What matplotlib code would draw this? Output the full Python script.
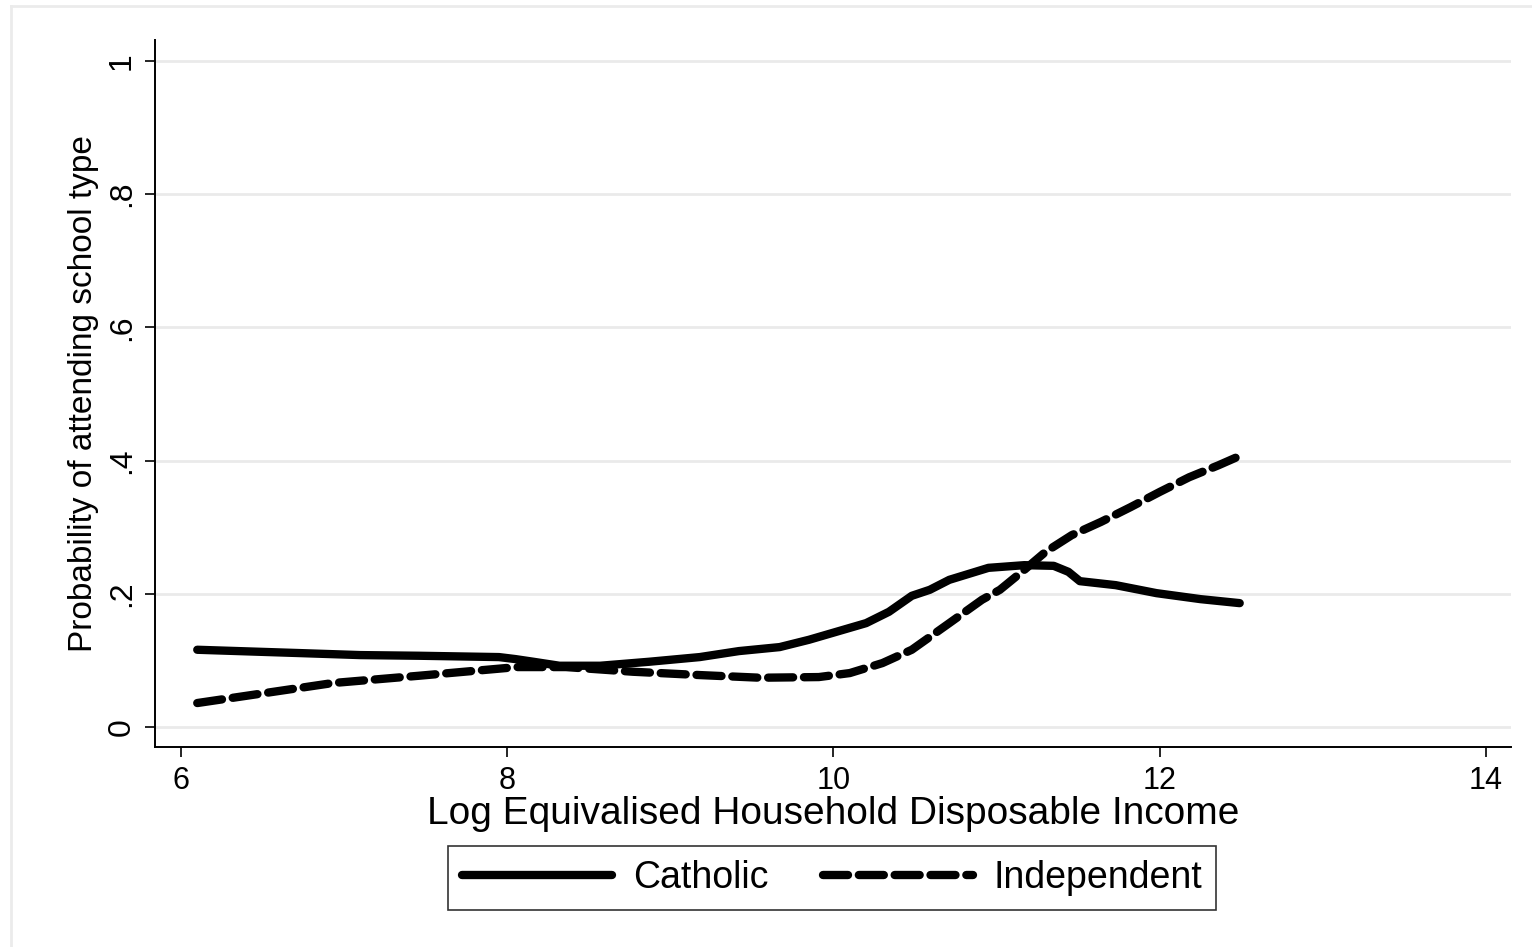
import matplotlib.pyplot as plt
from matplotlib.lines import Line2D

plt.rcParams["font.family"] = ["Liberation Sans", "DejaVu Sans"]

# smoothed probabilities by log income
catholic_x = [6.10, 6.73, 7.10, 7.46, 7.95, 8.05, 8.16, 8.32, 8.57, 8.87, 9.18, 9.42,
              9.67, 9.85, 9.99, 10.20, 10.34, 10.48, 10.59, 10.71, 10.95, 11.17, 11.35,
              11.44, 11.51, 11.73, 11.98, 12.25, 12.49]
catholic_y = [0.116, 0.111, 0.108, 0.107, 0.105, 0.102, 0.098, 0.092, 0.092, 0.098, 0.105,
              0.114, 0.120, 0.131, 0.141, 0.156, 0.173, 0.197, 0.206, 0.221, 0.239, 0.243,
              0.242, 0.233, 0.219, 0.213, 0.201, 0.192, 0.186]

indep_x = [6.10, 6.93, 7.46, 8.06, 8.36, 8.77, 9.18, 9.55, 9.91, 10.10, 10.30, 10.48,
           10.71, 10.91, 11.02, 11.17, 11.30, 11.46, 11.64, 11.82, 12.00, 12.18, 12.36, 12.49]
indep_y = [0.036, 0.066, 0.077, 0.090, 0.090, 0.083, 0.078, 0.074, 0.075, 0.081, 0.096,
           0.116, 0.156, 0.191, 0.206, 0.236, 0.263, 0.288, 0.308, 0.330, 0.353, 0.375,
           0.393, 0.407]

x_ticks = [6, 8, 10, 12, 14]
y_ticks = [0, 0.2, 0.4, 0.6, 0.8, 1]
y_tick_labels = ["0", ".2", ".4", ".6", ".8", "1"]

W, H = 1532, 947
fig = plt.figure(figsize=(W / 100, H / 100), dpi=100)
ax = fig.add_axes([155 / W, (H - 747) / H, (1511 - 155) / W, (747 - 40) / H])

# outer light frame
fig.add_artist(Line2D([11 / W, 1.0], [1 - 6 / H, 1 - 6 / H], color="#ebebeb", lw=2,
                      transform=fig.transFigure))
fig.add_artist(Line2D([11 / W, 11 / W], [0.0, 1 - 6 / H], color="#ebebeb", lw=2,
                      transform=fig.transFigure))

ax.plot(catholic_x, catholic_y, color="black", lw=6, solid_capstyle="round",
        solid_joinstyle="round", label="Catholic")
ax.plot(indep_x, indep_y, color="black", lw=6, dashes=(3.0, 1.3),
        dash_capstyle="round", label="Independent")

ax.set_xlim(5.841, 14.153)
ax.set_ylim(-0.030, 1.0315)
ax.set_xticks(x_ticks)
ax.set_yticks(y_ticks)
ax.set_yticklabels(y_tick_labels, rotation=90, va="center")
ax.tick_params(axis="both", direction="out", length=7, width=1.2, pad=6)
ax.tick_params(axis="x", labelsize=22, pad=7)
ax.tick_params(axis="y", labelsize=23, pad=6)
ax.grid(axis="y", color="#eaeaea", lw=2)
ax.set_axisbelow(True)

for side in ("top", "right"):
    ax.spines[side].set_visible(False)
for side in ("left", "bottom"):
    ax.spines[side].set_linewidth(1.4)

ax.set_xlabel("Log Equivalised Household Disposable Income", fontsize=28, labelpad=0)
ax.set_ylabel("Probability of attending school type", fontsize=24, labelpad=6)

leg = ax.legend(loc="center", bbox_to_anchor=(832 / W, (H - 878) / H),
                bbox_transform=fig.transFigure, ncol=2, fontsize=27, frameon=True,
                fancybox=False, edgecolor="black", handlelength=4.0, handletextpad=0.55,
                columnspacing=1.45, borderpad=0.38)
leg.get_frame().set_linewidth(1.2)

fig.savefig("out.png", dpi=100)
